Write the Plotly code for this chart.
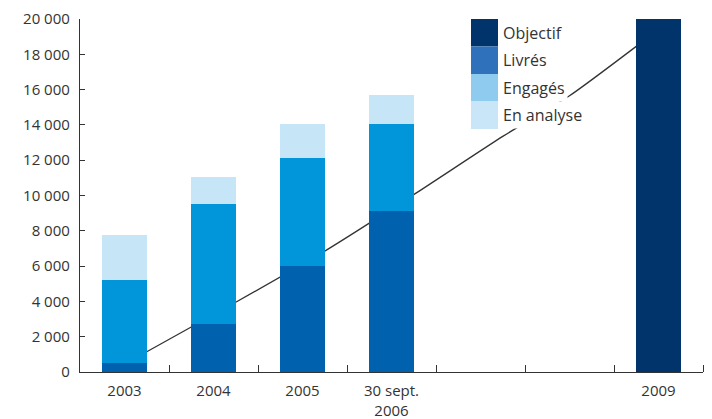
import plotly.graph_objects as go

# ---------------- data ----------------
categories = ["2003", "2004", "2005", "30 sept.<br>2006", "", "", "2009"]
livres = [500, 2700, 6000, 9100, None, None, None]
engages = [4700, 6800, 6150, 4950, None, None, None]
en_analyse = [2550, 1550, 1900, 1650, None, None, None]
objectif = [None, None, None, None, None, None, 20000]

# trajectory line (category-index positions, values)
traj_x = [0.25, 1.25, 2.25, 3.25, 4.25, 5.0, 5.75]
traj_y = [1150, 3950, 6850, 10050, 13350, 15650, 18450]

legend_names = ["Objectif", "Livrés", "Engagés", "En analyse"]
y_ticks = list(range(0, 20001, 2000))

# ---------------- styles ----------------
C_OBJ = "#00346a"
C_LIV = "#0061ae"
C_ENG = "#0096d9"
C_ANA = "#c6e5f6"
LEG_COLORS = ["#00346a", "#2f72bb", "#8ecbee", "#c8e6f7"]
TXT = "#333333"
FONT = "Open Sans"

W, H = 712, 419
ML, MR, MT, MB = 80, 9, 19, 47

xpos = list(range(len(categories)))

fig = go.Figure()

# line below the bars (base subplot)
fig.add_trace(go.Scatter(x=traj_x, y=traj_y, mode="lines",
                         line=dict(color="#333333", width=1.3, shape="spline", smoothing=0.6),
                         xaxis="x", yaxis="y", showlegend=False, hoverinfo="skip"))

# bars on the overlaying subplot (drawn on top)
for vals, col in [(livres, C_LIV), (engages, C_ENG), (en_analyse, C_ANA), (objectif, C_OBJ)]:
    fig.add_trace(go.Bar(x=xpos, y=vals, marker=dict(color=col, line=dict(width=0)),
                         width=0.5, xaxis="x2", yaxis="y2", showlegend=False))

boundaries = [i + 0.5 for i in xpos]

fig.update_layout(
    width=W, height=H,
    margin=dict(l=ML, r=MR, t=MT, b=MB),
    paper_bgcolor="white", plot_bgcolor="white",
    barmode="stack",
    separators=", ",
    showlegend=False,
    font=dict(family=FONT, size=15, color=TXT),
    xaxis=dict(range=[-0.5, 6.5], showgrid=False, zeroline=False, automargin=False,
               showline=True, linecolor="#333333", linewidth=1.3,
               tickmode="array", tickvals=xpos, ticktext=categories,
               ticks="", ticklabelstandoff=5,
               tickfont=dict(family=FONT, size=15, color=TXT),
               minor=dict(tickmode="array", tickvals=boundaries, ticks="inside",
                          ticklen=7, tickwidth=1.3, tickcolor="#333333", showgrid=False)),
    yaxis=dict(range=[0, 20000], showgrid=False, zeroline=False, automargin=False,
               showline=True, linecolor="#333333", linewidth=1.3,
               tickmode="array", tickvals=y_ticks, tickformat=",d",
               ticks="inside", ticklen=5, tickwidth=1.3, tickcolor="#333333",
               ticklabelstandoff=6,
               tickfont=dict(family=FONT, size=15, color=TXT)),
    xaxis2=dict(range=[-0.5, 6.5], overlaying="x", visible=False),
    yaxis2=dict(range=[0, 20000], overlaying="y", visible=False),
)

# manual legend
plot_w = W - ML - MR
plot_h = H - MT - MB

def px_x(p):
    return (p - ML) / plot_w

def px_y(p):
    return 1 - (p - MT) / plot_h

sw_x0, sw_x1 = 471, 498
row_top = 19
row_h = 27.5
for i, (name, col) in enumerate(zip(legend_names, LEG_COLORS)):
    y0 = row_top + i * row_h
    y1 = y0 + row_h
    fig.add_shape(type="rect", xref="paper", yref="paper",
                  x0=px_x(sw_x0), x1=px_x(sw_x1), y0=px_y(y1), y1=px_y(y0),
                  fillcolor=col, line=dict(width=0), layer="above")
    fig.add_annotation(xref="paper", yref="paper", x=px_x(500), y=px_y((y0 + y1) / 2),
                       xanchor="left", yanchor="middle", text=name, showarrow=False,
                       bgcolor="white", borderpad=2,
                       font=dict(family=FONT, size=16, color=TXT))

fig.write_html("out.html")
